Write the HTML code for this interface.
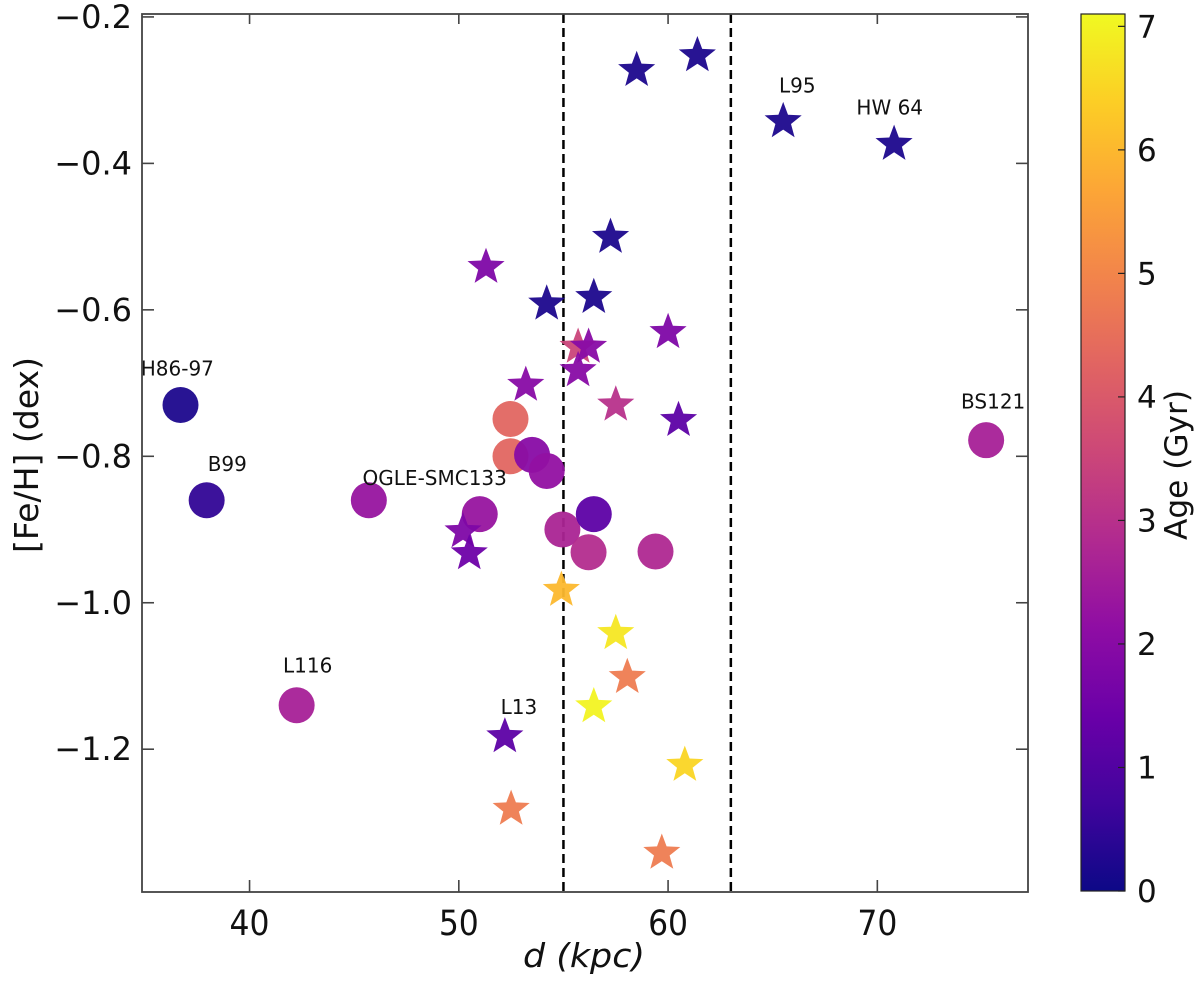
<!DOCTYPE html>
<html><head><meta charset="utf-8">
<style>
body{margin:0;background:#fff;}
svg text{font-family:"DejaVu Sans","Liberation Sans",sans-serif;}
</style></head>
<body>
<svg id="chart" width="1200" height="980" viewBox="0 0 1200 980" xmlns="http://www.w3.org/2000/svg">
<defs>
<linearGradient id="plasma" x1="0" y1="1" x2="0" y2="0">
<stop offset="0" stop-color="#0d0887"/><stop offset="0.1" stop-color="#41049d"/><stop offset="0.2" stop-color="#6a00a8"/><stop offset="0.3" stop-color="#8f0da4"/><stop offset="0.4" stop-color="#b12a90"/><stop offset="0.5" stop-color="#cc4778"/><stop offset="0.6" stop-color="#e16462"/><stop offset="0.7" stop-color="#f2844b"/><stop offset="0.8" stop-color="#fca636"/><stop offset="0.9" stop-color="#fcce25"/><stop offset="1" stop-color="#f0f921"/>
</linearGradient>
</defs>
<g id="marks"></g>
<g id="axes"></g>
</svg>
<script>
const circleD = [36.7,37.95,45.7,42.25,51.0,52.47,52.47,53.5,54.2,54.95,56.45,56.2,59.4,75.2];
const circleFeH = [-0.73,-0.86,-0.86,-1.14,-0.879,-0.749,-0.80,-0.798,-0.82,-0.90,-0.879,-0.931,-0.93,-0.778];
const circleAge = [0.2,0.5,2.3,2.6,2.3,4.3,4.3,2.0,2.2,2.7,1.2,2.9,2.8,2.6];
const starD = [61.4,58.5,65.5,70.8,57.25,51.3,54.2,56.45,60.0,55.7,56.2,55.7,53.2,57.5,60.5,50.2,50.5,54.9,57.5,58.05,56.45,52.2,52.5,60.8,59.7];
const starFeH = [-0.25,-0.27,-0.34,-0.371,-0.498,-0.539,-0.589,-0.58,-0.628,-0.648,-0.648,-0.68,-0.70,-0.727,-0.748,-0.90,-0.93,-0.98,-1.039,-1.099,-1.139,-1.18,-1.279,-1.219,-1.339];
const starAge = [0.2,0.2,0.2,0.2,0.2,1.8,0.2,0.2,1.8,3.5,2.0,2.0,2.0,3.0,1.2,1.8,1.5,6.0,6.8,4.8,7.0,1.2,4.8,6.5,4.8];
const labelText = ["H86-97","B99","OGLE-SMC133","L116","L13","L95","HW 64","BS121"];
const labelD = [34.8,38.0,45.4,41.6,52.0,65.3,69.0,74.0];
const labelFeH = [-0.69,-0.82,-0.839,-1.095,-1.152,-0.303,-0.333,-0.735];
const xTicks = [40,50,60,70];
const yTicks = [-0.2,-0.4,-0.6,-0.8,-1.0,-1.2];
const cbTicks = [0,1,2,3,4,5,6,7];
const vLines = [55,63];

const X0=142,X1=1028,Y0=14,Y1=892;
const xMin=34.86,xMax=77.2,yMin=-1.395,yMax=-0.196,cMax=7.1;
const sx=d=>X0+(d-xMin)/(xMax-xMin)*(X1-X0);
const sy=v=>Y0+(yMax-v)/(yMax-yMin)*(Y1-Y0);
const CB0=14,CB1=891,CBX=1081,CBW=44;
const sc=a=>CB1-a/cMax*(CB1-CB0);
const stops=["#0d0887","#41049d","#6a00a8","#8f0da4","#b12a90","#cc4778","#e16462","#f2844b","#fca636","#fcce25","#f0f921"];
function plasma(a){let t=Math.max(0,Math.min(1,a/cMax))*10;let i=Math.min(9,Math.floor(t)),f=t-i;
const h=s=>[1,3,5].map(k=>parseInt(s.substr(k,2),16));const c0=h(stops[i]),c1=h(stops[i+1]);
return 'rgb('+c0.map((v,k)=>Math.round(v+(c1[k]-v)*f)).join(',')+')';}
const NS="http://www.w3.org/2000/svg";
function mk(tag,attrs,parent){const e=document.createElementNS(NS,tag);for(const k in attrs)e.setAttribute(k,attrs[k]);parent.appendChild(e);return e;}
const marks=document.getElementById('marks'),axes=document.getElementById('axes');

vLines.forEach(v=>{const l=mk('line',{x1:sx(v),x2:sx(v),y1:Y0,y2:Y1,stroke:'#000','stroke-width':2.5,'stroke-dasharray':'9,5'},marks);

});

circleD.forEach((d,i)=>{const c=mk('circle',{cx:sx(d),cy:sy(circleFeH[i]),r:18,fill:plasma(circleAge[i]),'fill-opacity':0.95},marks);

});
function starPts(cx,cy,R){let p=[];for(let k=0;k<10;k++){const r=k%2?R*0.42:R;const a=-Math.PI/2+k*Math.PI/5;p.push((cx+r*Math.cos(a)).toFixed(1)+','+(cy+r*Math.sin(a)).toFixed(1));}return p.join(' ');}
starD.forEach((d,i)=>{const s=mk('polygon',{points:starPts(sx(d),sy(starFeH[i])+2,19.5),fill:plasma(starAge[i]),'fill-opacity':0.95},marks);

});
labelText.forEach((t,i)=>{const e=mk('text',{x:sx(labelD[i]),y:sy(labelFeH[i]),'font-size':20,fill:'#111'},marks);e.textContent=t;

});

const fr=mk('rect',{x:X0,y:Y0,width:X1-X0,height:Y1-Y0,fill:'none',stroke:'#444','stroke-width':1.8},axes);


xTicks.forEach(v=>{const x=sx(v);mk('line',{x1:x,x2:x,y1:Y1,y2:Y1-12,stroke:'#444','stroke-width':1.6},axes);mk('line',{x1:x,x2:x,y1:Y0,y2:Y0+10,stroke:'#444','stroke-width':1.6},axes);
const t=mk('text',{x:x,y:Y1+43,'font-size':35,'text-anchor':'middle',textLength:40,lengthAdjust:'spacingAndGlyphs',fill:'#111'},axes);t.textContent=v;

});
yTicks.forEach(v=>{const y=sy(v);mk('line',{x1:X0,x2:X0+12,y1:y,y2:y,stroke:'#444','stroke-width':1.6},axes);mk('line',{x1:X1,x2:X1-12,y1:y,y2:y,stroke:'#444','stroke-width':1.6},axes);
const t=mk('text',{x:132,y:y+11,'font-size':32,'text-anchor':'end',fill:'#111'},axes);t.textContent='\u2212'+Math.abs(v).toFixed(1);

});
const xl=mk('text',{x:523,y:967,'font-size':33,textLength:122,lengthAdjust:'spacingAndGlyphs','font-style':'italic',fill:'#111'},axes);xl.textContent='d (kpc)';


const yl=mk('text',{x:0,y:0,'font-size':33,textLength:196,lengthAdjust:'spacingAndGlyphs',fill:'#111',transform:'translate(38,553) rotate(-90)'},axes);yl.textContent='[Fe/H] (dex)';



const cb=mk('rect',{x:CBX,y:CB0,width:CBW,height:CB1-CB0,fill:'url(#plasma)',stroke:'#222','stroke-width':1.2},axes);


cbTicks.forEach(v=>{const y=sc(v);mk('line',{x1:CBX+CBW,x2:CBX+CBW-7,y1:y,y2:y,stroke:'#222','stroke-width':1.2},axes);
const t=mk('text',{x:CBX+CBW+12,y:y+11,'font-size':31,fill:'#111'},axes);t.textContent=v;

});
const cl=mk('text',{x:0,y:0,'font-size':31,textLength:150,lengthAdjust:'spacingAndGlyphs',fill:'#111',transform:'translate(1187,540) rotate(-90)'},axes);cl.textContent='Age (Gyr)';


</script>
</body></html>
